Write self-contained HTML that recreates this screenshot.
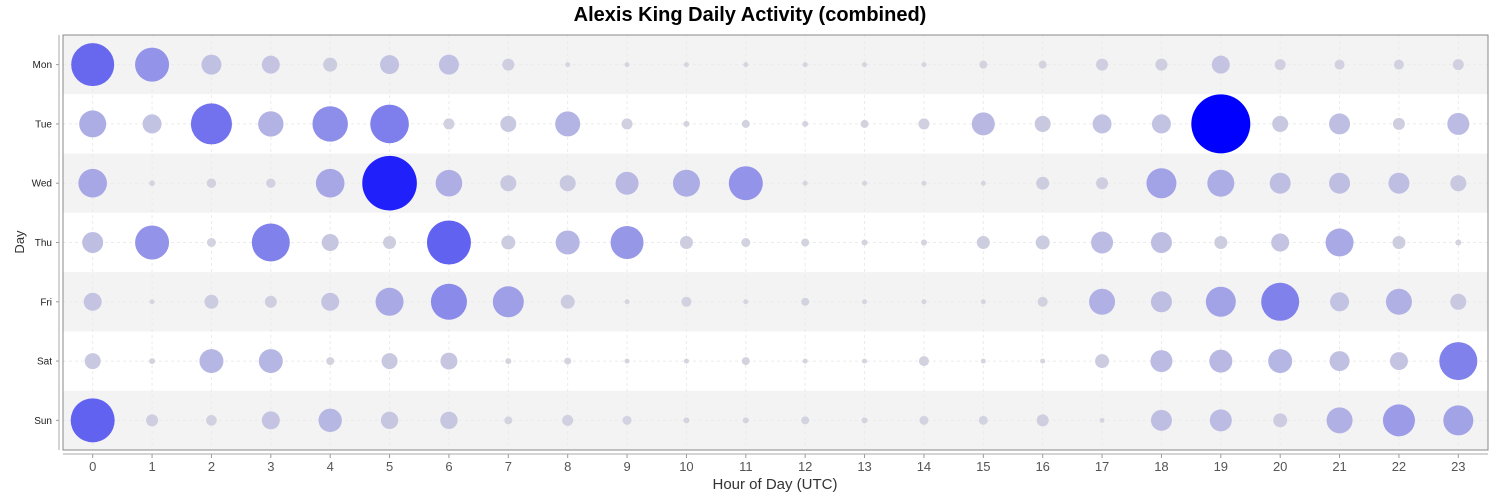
<!DOCTYPE html>
<html><head><meta charset="utf-8"><style>
body{margin:0;background:#fff;}
svg{display:block;font-family:"Liberation Sans",sans-serif;}
</style></head><body>
<svg id="chart" width="1500" height="500" xmlns="http://www.w3.org/2000/svg">
<text x="750" y="21" text-anchor="middle" font-size="20" font-weight="bold" fill="#000">Alexis King Daily Activity (combined)</text>
<text x="0" y="0" transform="translate(24,242) rotate(-90)" text-anchor="middle" font-size="13" fill="#333">Day</text>
<text x="775" y="489" text-anchor="middle" font-size="15" fill="#333">Hour of Day (UTC)</text>
<g id="bands"></g><g id="grid"></g><g id="marks"></g><g id="axes"></g>
</svg>
<script>
const days = ["Mon","Tue","Wed","Thu","Fri","Sat","Sun"];
const hours = [0,1,2,3,4,5,6,7,8,9,10,11,12,13,14,15,16,17,18,19,20,21,22,23];
const monActivity = [21.5,17,10,9,7,9.5,10,6,2.5,2.5,2.5,2.5,2.5,2.5,2.5,4,4,6,6,9,5.5,5,5,5.5];
const tueActivity = [13.5,9.5,20.5,12.7,17.7,19.3,5.5,8,12.5,5.5,3,4,3,4,5.5,11.5,8,9.5,9.5,29.5,8,10.5,6,11];
const wedActivity = [14.3,2.8,4.7,4.7,14.3,27.3,13.3,8,8,11.5,13.5,17,2.5,2.5,2.5,2.5,6.5,6,15,13.5,10.5,10.5,10.5,8];
const thuActivity = [10.5,17,4.5,19,8.5,6.5,22,7,12,16.5,6.5,4.5,4,3,3,6.5,7,11,10.5,6.5,9,14,6.5,3];
const friActivity = [9,2.5,7,6,9,14,18,15.5,7,2.5,5,2.5,4,2.5,2.5,2.5,5,13,10.5,15,19,9.5,13,8];
const satActivity = [8,3,12,12,4,8,8.5,3,3.5,2.5,2.5,4,2.5,2.5,5,2.5,2.5,7,11,11.5,12,10,9,19];
const sunActivity = [22,6,5.3,9,11.7,8.7,8.7,4,5.5,4.5,3,3,4,3,4.5,4.5,6,2.5,10.5,11,7,13,16,15];
const series = [monActivity,tueActivity,wedActivity,thuActivity,friActivity,satActivity,sunActivity];

const NS="http://www.w3.org/2000/svg";
const L=63,R=1488,T=35,B=450;
const colW=(R-L)/24, rowH=(B-T)/7;
const xS=h=>L+colW*(h+0.5);
const yS=d=>T+rowH*(d+0.5);
const vmax=Math.max(...series.flat());
const rS=v=>29.5*v/vmax;
function mk(tag,attrs,parent){const e=document.createElementNS(NS,tag);for(const k in attrs)e.setAttribute(k,attrs[k]);parent.appendChild(e);return e;}
const bands=document.getElementById('bands'),grid=document.getElementById('grid'),marks=document.getElementById('marks'),axes=document.getElementById('axes');
days.forEach((d,i)=>{
  const b=mk('rect',{x:L,y:T+rowH*i,width:R-L,height:rowH,fill:i%2===0?'#f3f3f3':'#ffffff'},bands);
  
  
  const g=mk('line',{x1:L,x2:R,y1:yS(i),y2:yS(i),stroke:'#ebebeb','stroke-dasharray':'3,3'},grid);
  
  
  const t=mk('text',{x:52,y:yS(i)+3.5,'text-anchor':'end','font-size':10,fill:'#222'},axes);
  t.textContent=d;
  
  
  mk('line',{x1:56,x2:59,y1:yS(i),y2:yS(i),stroke:'#999'},axes);
});
hours.forEach(h=>{
  const g=mk('line',{x1:xS(h),x2:xS(h),y1:T,y2:B,stroke:'#ebebeb','stroke-dasharray':'3,3'},grid);
  
  
  mk('line',{x1:xS(h),x2:xS(h),y1:454,y2:458,stroke:'#999'},axes);
  const t=mk('text',{x:xS(h),y:471,'text-anchor':'middle','font-size':13,fill:'#555'},axes);
  t.textContent=h;
  
  
});
series.forEach((row,d)=>{
  row.forEach((v,h)=>{
    const t=Math.pow(v/vmax,2.1);
    const c=[Math.round(214*(1-t)),Math.round(214*(1-t)),Math.round(223+32*t)];
    const e=mk('circle',{cx:xS(h),cy:yS(d),r:rS(v),fill:`rgb(${c})`},marks);
    
    
  });
});
const fr=mk('rect',{x:L,y:T,width:R-L,height:B-T,fill:'none',stroke:'#888'},axes);


const ya=mk('line',{x1:59,x2:59,y1:T,y2:B,stroke:'#aaa'},axes);


const xa=mk('line',{x1:L,x2:R,y1:454,y2:454,stroke:'#aaa'},axes);


</script>
</body></html>
